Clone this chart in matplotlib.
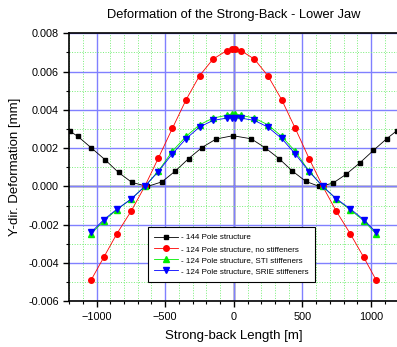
import numpy as np
import matplotlib
matplotlib.use("Agg")
import matplotlib.pyplot as plt
from matplotlib.ticker import MultipleLocator

plt.rcParams["font.family"] = ["Liberation Sans", "DejaVu Sans"]

# 144 Pole structure
x_144 = [-1195, -1135, -1039, -937, -840, -742, -629, -524, -427, -330, -233, -129, -7,
         126, 228, 330, 427, 526, 623, 721, 817, 919, 1016, 1113, 1185]
y_144 = [0.00289, 0.00261, 0.00202, 0.00139, 0.00073, 0.00021, 0.0, 0.00024, 0.00080, 0.00145,
         0.00203, 0.00248, 0.00265,
         0.00249, 0.00202, 0.00145, 0.00080, 0.00026, 0.0, 0.00017, 0.00063, 0.00124, 0.00188,
         0.00249, 0.00290]

# 124 Pole structures share the same stations
x_124 = [-1038, -948, -852, -748, -649, -550, -448, -347, -250, -152, -51, -12,
         12, 51, 150, 248, 348, 447, 548, 648, 746, 848, 947, 1035]
y_none = [-0.00487, -0.00371, -0.00247, -0.00129, 0.0, 0.00148, 0.00303, 0.00454, 0.00578,
          0.00665, 0.00710, 0.00717,
          0.00717, 0.00710, 0.00665, 0.00578, 0.00454, 0.00304, 0.00146, 0.0, -0.00129,
          -0.00247, -0.00371, -0.00487]
y_sti = [-0.00247, -0.00180, -0.00122, -0.00066, 0.0, 0.00080, 0.00184, 0.00262, 0.00322,
         0.00357, 0.00372, 0.00380,
         0.00380, 0.00372, 0.00357, 0.00322, 0.00262, 0.00184, 0.00080, 0.0, -0.00066,
         -0.00122, -0.00180, -0.00247]
y_srie = [-0.00239, -0.00174, -0.00119, -0.00066, 0.0, 0.00078, 0.00170, 0.00250, 0.00310,
          0.00345, 0.00357, 0.00360,
          0.00360, 0.00357, 0.00345, 0.00310, 0.00251, 0.00170, 0.00078, 0.0, -0.00064,
          -0.00117, -0.00174, -0.00239]

labels = ["- 144 Pole structure",
          "- 124 Pole structure, no stiffeners",
          "- 124 Pole structure, STI stiffeners",
          "- 124 Pole structure, SRIE stiffeners"]

fig = plt.figure(figsize=(3.97, 3.47), dpi=100)
ax = fig.add_axes([0.174, 0.1317, 0.830, 0.7723])

ax.set_xlim(-1200, 1200)
ax.set_ylim(-0.006, 0.008)

ax.xaxis.set_major_locator(MultipleLocator(500))
ax.xaxis.set_minor_locator(MultipleLocator(100))
ax.yaxis.set_major_locator(MultipleLocator(0.002))
ax.yaxis.set_minor_locator(MultipleLocator(0.001))
ax.yaxis.set_major_formatter(plt.FormatStrFormatter("%.3f"))

ax.grid(which="minor", color="#77ee77", linestyle=":", linewidth=0.7, zorder=0)
ax.grid(which="major", color="#8080ff", linestyle="-", linewidth=1.0, zorder=0)
ax.axhline(0, color="black", lw=1.0, zorder=1)
ax.axvline(0, color="black", lw=1.0, zorder=1)

ax.plot(x_144, y_144, color="black", lw=0.6, marker="s", ms=3.2, label=labels[0], zorder=3)
ax.plot(x_124, y_none, color="red", lw=0.6, marker="o", ms=4, label=labels[1], zorder=3)
ax.plot(x_124, y_sti, color="#00ee00", lw=0.6, marker="^", ms=4.3, label=labels[2], zorder=3)
ax.plot(x_124, y_srie, color="blue", lw=0.6, marker="v", ms=4.3, label=labels[3], zorder=4)

ax.tick_params(which="major", direction="out", length=4, width=1, labelsize=7.8)
ax.tick_params(which="minor", direction="out", length=2.5, width=0.8)
for sp in ax.spines.values():
    sp.set_linewidth(1.2)

ax.set_title("Deformation of the Strong-Back - Lower Jaw", fontsize=9.3, pad=11)
ax.set_xlabel("Strong-back Length [m]", fontsize=9.5, labelpad=6)
ax.set_ylabel("Y-dir. Deformation [mm]", fontsize=9.5, labelpad=5)

leg = ax.legend(loc="upper left", bbox_to_anchor=(0.239, 0.276), borderaxespad=0,
                fontsize=5.8, fancybox=False, edgecolor="black", framealpha=1,
                handlelength=3, handletextpad=0.3, labelspacing=0.45, borderpad=0.8)
leg.get_frame().set_linewidth(0.8)

fig.savefig("out.png", dpi=100)
